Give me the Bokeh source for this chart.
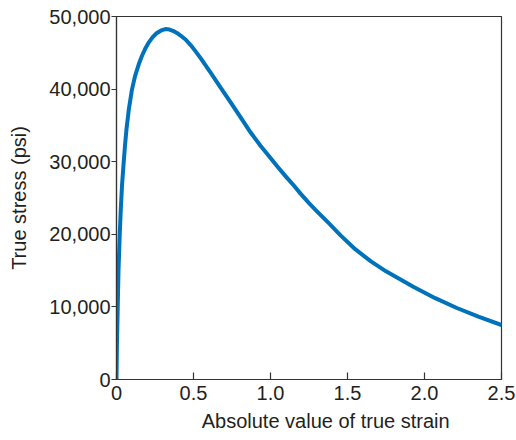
from bokeh.plotting import figure
from bokeh.models import Range1d, FixedTicker, NumeralTickFormatter
from bokeh.embed import file_html
from bokeh.resources import INLINE

# Data
strain = [0, 0.003, 0.008, 0.013, 0.021, 0.028, 0.036, 0.047, 0.056, 0.065,
          0.08, 0.10, 0.12, 0.145, 0.167, 0.19, 0.21, 0.235, 0.26, 0.29, 0.318,
          0.345, 0.37, 0.395, 0.416, 0.45, 0.48, 0.51, 0.545, 0.61, 0.675, 0.74, 0.805,
          0.87, 0.935, 1.0, 1.05, 1.1, 1.15, 1.195, 1.25, 1.3, 1.38, 1.455, 1.55, 1.65,
          1.75, 1.85, 1.93, 2.07, 2.21, 2.35, 2.5]
stress = [0, 5000, 10000, 15000, 20000, 23500, 26800, 30000, 32430, 34500,
          37200, 39900, 41750, 43450, 44660, 45700, 46440, 47165, 47690, 48080, 48270,
          48200, 48000, 47700, 47380, 46800, 46100, 45300, 44300, 42300, 40250, 38200, 36130,
          34050, 32200, 30500, 29200, 27950, 26750, 25600, 24300, 23200, 21500, 19850, 17950, 16300,
          14900, 13700, 12750, 11200, 9850, 8650, 7500]

x_ticks = [0, 0.5, 1.0, 1.5, 2.0, 2.5]
x_tick_labels = ["0", "0.5", "1.0", "1.5", "2.0", "2.5"]
y_ticks = [0, 10000, 20000, 30000, 40000, 50000]

x_title = "Absolute value of true strain"
y_title = "True stress (psi)"

FONT = "Liberation Sans"
TXT = "#231f20"
AX = "#333333"
BLUE = "#0072bc"

p = figure(width=516, height=440, output_backend="svg", toolbar_location=None,
           x_range=Range1d(0, 2.5), y_range=Range1d(0, 50000),
           min_border_left=116, min_border_right=15, min_border_top=16,
           min_border_bottom=61)

p.line(strain, stress, line_color=BLUE, line_width=4, line_join="round", line_cap="round")

p.grid.visible = False
p.outline_line_color = AX
p.outline_line_width = 1.2
p.outline_line_alpha = 1.0
p.background_fill_color = "white"
p.border_fill_color = "white"

xa = p.xaxis[0]
xa.ticker = FixedTicker(ticks=x_ticks)
xa.major_label_overrides = {t: l for t, l in zip(x_ticks, x_tick_labels)}
xa.major_tick_in = 7
xa.major_tick_out = 0
xa.minor_tick_in = 0
xa.minor_tick_out = 0
xa.major_label_standoff = 6
xa.axis_line_color = AX
xa.axis_line_width = 1.2
xa.major_tick_line_color = AX
xa.major_tick_line_width = 1.2
xa.major_label_text_font = FONT
xa.major_label_text_font_size = "20px"
xa.major_label_text_color = TXT
# leading no-break spaces shift the centred title right, as in the reference
xa.axis_label = "\u00a0" * 6 + x_title
xa.axis_label_text_font = FONT
xa.axis_label_text_font_size = "20px"
xa.axis_label_text_font_style = "normal"
xa.axis_label_text_color = TXT
xa.axis_label_standoff = 7

ya = p.yaxis[0]
ya.ticker = FixedTicker(ticks=y_ticks)
ya.formatter = NumeralTickFormatter(format="0,0")
ya.major_tick_in = 0
ya.major_tick_out = 5
ya.minor_tick_in = 0
ya.minor_tick_out = 0
ya.major_label_standoff = 1
ya.axis_line_color = AX
ya.axis_line_width = 1.2
ya.major_tick_line_color = AX
ya.major_tick_line_width = 1.2
ya.major_label_text_font = FONT
ya.major_label_text_font_size = "20px"
ya.major_label_text_color = TXT
ya.axis_label = y_title
ya.axis_label_text_font = FONT
ya.axis_label_text_font_size = "20px"
ya.axis_label_text_font_style = "normal"
ya.axis_label_text_color = TXT
ya.axis_label_standoff = 16

open("out.html", "w").write(file_html(p, INLINE))
